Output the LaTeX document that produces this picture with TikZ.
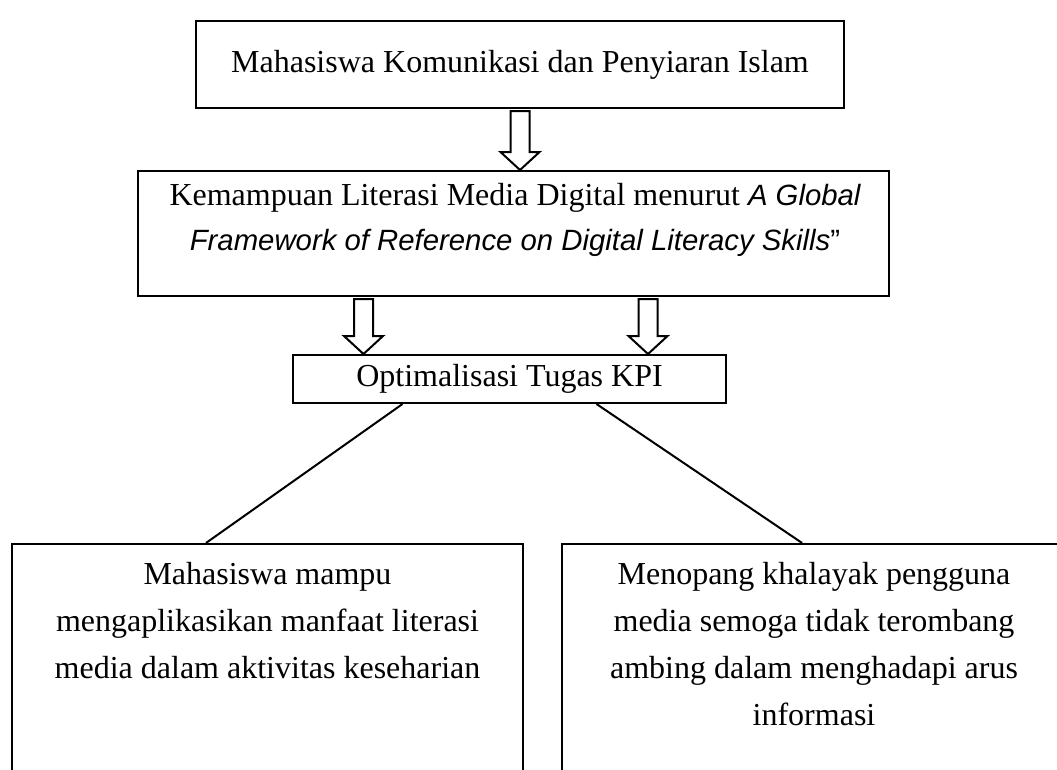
\documentclass[tikz,border=0pt]{standalone}
\usepackage{fontspec}
\setmainfont{Liberation Serif}
\newfontfamily\arialfont{Liberation Sans}
\usetikzlibrary{calc}
\newcommand{\px}{0.375pt}
\newcommand{\engit}{\arialfont\itshape\fontsize{11}{16.9}\selectfont}
\tikzset{
  kpbox/.style={draw=black, line width=0.75pt, inner sep=0pt, align=center, font=\fontsize{12}{17.6}\selectfont},
  kptext/.style={inner sep=0pt, align=center, anchor=north, font=\fontsize{12}{17.6}\selectfont},
  kpline/.style={line width=0.75pt},
  pics/kparrow/.style={code={
    \draw[line width=0.75pt, fill=white] (-9.5,2) -- (-9.5,#1-18) -- (-19.5,#1-18) -- (0,#1)
      -- (19.5,#1-18) -- (9.5,#1-18) -- (9.5,2) -- cycle;
  }}
}

\begin{document}
\begin{tikzpicture}[x=\px, y=-\px]
  \useasboundingbox (0,0) rectangle (1057,769);

  \node[kpbox, minimum width=648*\px, minimum height=87*\px] (mhs) at (520,64.5) {Mahasiswa Komunikasi dan Penyiaran Islam};
  \node[kpbox, minimum width=751*\px, minimum height=125*\px] (lit) at (513.5,233.5) {};
  \node[kptext, font=\fontsize{12}{16.9}\selectfont] (litText) at (515,183) {Kemampuan Literasi Media Digital menurut {\engit A Global}\\{\engit Framework of Reference on Digital Literacy Skills}{\arialfont\fontsize{11}{16.9}\selectfont ”}};
  \node[kpbox, minimum width=433*\px, minimum height=48*\px] (opt) at (509.5,379) {Optimalisasi Tugas KPI};
  \node[kpbox, minimum width=511*\px, minimum height=256*\px] (hasilA) at (267.5,672) {};
  \node[kpbox, minimum width=511*\px, minimum height=256*\px] (hasilB) at (817.5,672) {};
  \node[kptext] (hasilAText) at (267.5,562) {Mahasiswa mampu\\mengaplikasikan manfaat literasi\\media dalam aktivitas keseharian};
  \node[kptext] (hasilBText) at (814,562) {Menopang khalayak pengguna\\media semoga tidak terombang\\ambing dalam menghadapi arus\\informasi};

  \pic at (mhs.south) {kparrow=61};
  \pic at ($(lit.south)+(-150,0)$) {kparrow=57};
  \pic at ($(lit.south)+(134.5,0)$) {kparrow=57};

  \draw[kpline] ($(opt.south west)!0.254!(opt.south east)$) -- ($(hasilA.north west)!0.38!(hasilA.north east)$);
  \draw[kpline] ($(opt.south west)!0.70!(opt.south east)$) -- ($(hasilB.north west)!0.47!(hasilB.north east)$);
\end{tikzpicture}
\end{document}
